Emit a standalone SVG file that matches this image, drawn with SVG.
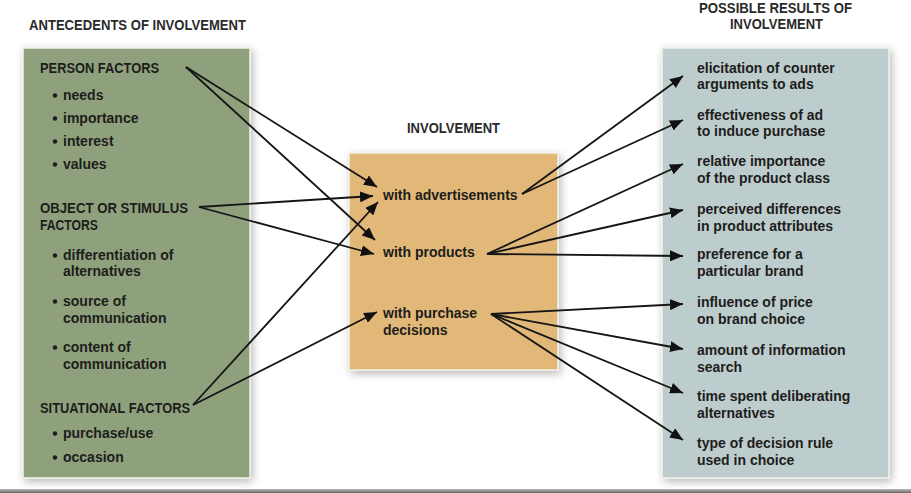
<svg xmlns="http://www.w3.org/2000/svg" width="911" height="493" viewBox="0 0 911 493">
<defs>
<filter id="sh" x="-10%" y="-10%" width="120%" height="120%">
<feDropShadow dx="2" dy="3" stdDeviation="4" flood-color="#000" flood-opacity="0.28"/>
</filter>
<marker id="ah" markerUnits="userSpaceOnUse" markerWidth="14" markerHeight="11" refX="13" refY="5.5" orient="auto">
<path d="M0,0 L13,5.5 L0,11 z" fill="#111"/>
</marker>
<linearGradient id="bl" x1="0" y1="0" x2="0" y2="1">
<stop offset="0" stop-color="#bbb"/>
<stop offset="1" stop-color="#666"/>
</linearGradient>
</defs>
<style>
text{font-family:"Liberation Sans",Arial,sans-serif;fill:#1d1d1b;font-weight:bold}
.hd{font-size:15px;fill:#2a2a2a}
.cap{font-size:14.5px}
.t{font-size:14px}
.box{stroke:#f2f2ea;stroke-width:1.5;filter:url(#sh)}
.b{fill:#1d1d1b}
.c line{stroke:#151515;stroke-width:1.8;marker-end:url(#ah)}
</style>
<rect width="911" height="493" fill="#fff"/>

<g id="headers">
<text class="hd" x="29" y="30" textLength="217" lengthAdjust="spacingAndGlyphs">ANTECEDENTS OF INVOLVEMENT</text>
<text class="hd" x="407" y="133" textLength="93" lengthAdjust="spacingAndGlyphs">INVOLVEMENT</text>
<text class="hd" x="699" y="13" textLength="153" lengthAdjust="spacingAndGlyphs">POSSIBLE RESULTS OF</text>
<text class="hd" x="730" y="29" textLength="93" lengthAdjust="spacingAndGlyphs">INVOLVEMENT</text>
</g>

<g id="antecedents">
<rect class="box" x="23" y="48" width="227" height="430" fill="#8fa17c"/>
<g id="person-factors">
<text class="cap" x="40" y="73" textLength="119" lengthAdjust="spacingAndGlyphs">PERSON FACTORS</text>
<circle class="b" cx="55" cy="95.5" r="2.2"/><text class="t" x="63" y="100">needs</text>
<circle class="b" cx="55" cy="118.5" r="2.2"/><text class="t" x="63" y="123">importance</text>
<circle class="b" cx="55" cy="141.5" r="2.2"/><text class="t" x="63" y="146">interest</text>
<circle class="b" cx="55" cy="164.5" r="2.2"/><text class="t" x="63" y="169">values</text>
</g>
<g id="object-factors">
<text class="cap" x="40" y="213" textLength="148" lengthAdjust="spacingAndGlyphs">OBJECT OR STIMULUS</text>
<text class="cap" x="40" y="230" textLength="58" lengthAdjust="spacingAndGlyphs">FACTORS</text>
<circle class="b" cx="55" cy="255.5" r="2.2"/><text class="t" x="63" y="260">differentiation of</text>
<text class="t" x="63" y="276">alternatives</text>
<circle class="b" cx="55" cy="301.5" r="2.2"/><text class="t" x="63" y="306">source of</text>
<text class="t" x="63" y="323">communication</text>
<circle class="b" cx="55" cy="347.5" r="2.2"/><text class="t" x="63" y="352">content of</text>
<text class="t" x="63" y="369">communication</text>
</g>
<g id="situational-factors">
<text class="cap" x="40" y="413" textLength="150" lengthAdjust="spacingAndGlyphs">SITUATIONAL FACTORS</text>
<circle class="b" cx="55" cy="433.5" r="2.2"/><text class="t" x="63" y="438">purchase/use</text>
<circle class="b" cx="55" cy="457.5" r="2.2"/><text class="t" x="63" y="462">occasion</text>
</g>
</g>

<g id="involvement">
<rect class="box" x="349" y="153" width="209" height="217" fill="#e2b878"/>
<g id="with-advertisements"><text class="t" x="383" y="200">with advertisements</text></g>
<g id="with-products"><text class="t" x="383" y="257">with products</text></g>
<g id="with-purchase-decisions"><text class="t" x="383" y="318">with purchase</text><text class="t" x="383" y="335">decisions</text></g>
</g>

<g id="results">
<rect class="box" x="662" y="48" width="227" height="430" fill="#bdcccc"/>
<g id="r1"><text class="t" x="697" y="73">elicitation of counter</text><text class="t" x="697" y="89">arguments to ads</text></g>
<g id="r2"><text class="t" x="697" y="120">effectiveness of ad</text><text class="t" x="697" y="136">to induce purchase</text></g>
<g id="r3"><text class="t" x="697" y="166">relative importance</text><text class="t" x="697" y="183">of the product class</text></g>
<g id="r4"><text class="t" x="697" y="214">perceived differences</text><text class="t" x="697" y="231">in product attributes</text></g>
<g id="r5"><text class="t" x="697" y="259">preference for a</text><text class="t" x="697" y="276">particular brand</text></g>
<g id="r6"><text class="t" x="697" y="307">influence of price</text><text class="t" x="697" y="324">on brand choice</text></g>
<g id="r7"><text class="t" x="697" y="355">amount of information</text><text class="t" x="697" y="372">search</text></g>
<g id="r8"><text class="t" x="697" y="401">time spent deliberating</text><text class="t" x="697" y="418">alternatives</text></g>
<g id="r9"><text class="t" x="697" y="448">type of decision rule</text><text class="t" x="697" y="465">used in choice</text></g>
</g>

<g id="connectors" class="c">
<line x1="186" y1="67" x2="377" y2="187"/>
<line x1="186" y1="67" x2="375" y2="240"/>
<line x1="199" y1="207" x2="373" y2="196"/>
<line x1="199" y1="207" x2="374" y2="254"/>
<line x1="193" y1="405" x2="378" y2="202"/>
<line x1="193" y1="405" x2="377" y2="312"/>
<line x1="522" y1="194" x2="683" y2="76"/>
<line x1="522" y1="194" x2="683" y2="120"/>
<line x1="487" y1="254" x2="683" y2="164"/>
<line x1="487" y1="254" x2="683" y2="210"/>
<line x1="487" y1="254" x2="683" y2="256"/>
<line x1="491" y1="314" x2="683" y2="304"/>
<line x1="491" y1="314" x2="683" y2="349"/>
<line x1="491" y1="314" x2="683" y2="393"/>
<line x1="491" y1="314" x2="683" y2="440"/>
</g>

<rect x="0" y="489" width="911" height="4" fill="url(#bl)"/>
</svg>
